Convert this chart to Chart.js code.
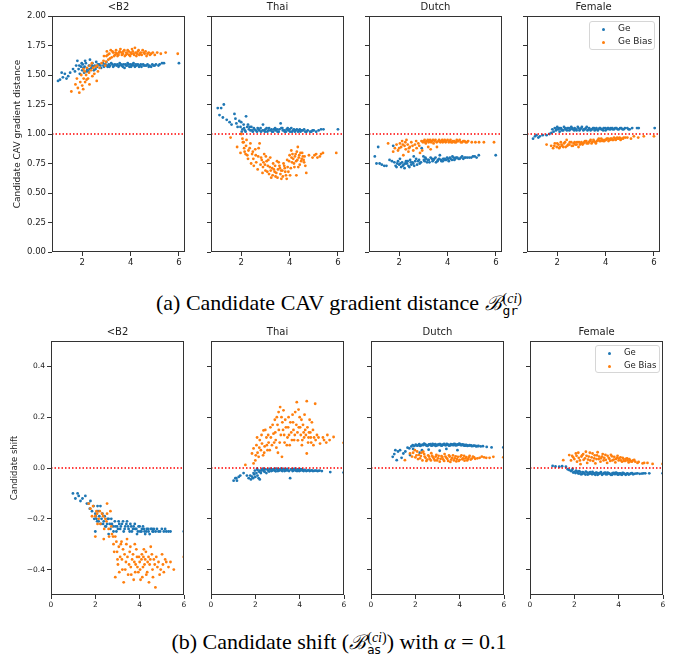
<!DOCTYPE html>
<html>
<head>
<meta charset="utf-8">
<script src="https://cdn.jsdelivr.net/npm/chart.js@4.4.1/dist/chart.umd.min.js"></script>
<style>
body { margin: 0; background: #fff; }
#fig { position: relative; width: 678px; height: 659px; overflow: hidden; font-family: "DejaVu Sans", sans-serif; }
#fig canvas { position: absolute; }
.ttl { position: absolute; font-size: 10px; line-height: 12px; color: #222; text-align: center; white-space: nowrap; }
.leg { position: absolute; border: 1px solid #d6d6d6; border-radius: 3px; background: rgba(255,255,255,0.85); box-sizing: border-box; }
.leg .dot { position: absolute; width: 3px; height: 3px; border-radius: 50%; }
.leg .lt { position: absolute; color: #222; white-space: nowrap; }
.cap { position: absolute; left: 0; width: 678px; text-align: center; font-family: "Liberation Serif", "Times New Roman", serif; font-size: 22px; line-height: 24px; color: #000; white-space: nowrap; }
.cal { font-family: "DejaVu Serif", serif; font-style: italic; font-size: 20px; }
.stk { display: inline-block; vertical-align: -5px; line-height: 12px; font-size: 14px; text-align: left; margin-left: 1px; }
.stk span { display: block; }
</style>
</head>
<body>
<div id="fig">
  <div class="cap" style="top:291px">(a) Candidate CAV gradient distance <span class="cal">ℬ</span><span class="stk"><span>(<i>ci</i>)</span><span style="font-family:'DejaVu Sans Mono',monospace;font-size:13px">gr</span></span></div>
  <div class="cap" style="top:630px">(b) Candidate shift (<span class="cal">ℬ</span><span class="stk"><span>(<i>ci</i>)</span><span style="font-family:'DejaVu Sans',sans-serif;font-size:12px">as</span></span>) with <i>α</i> = 0.1</div>
</div>
<script>
// --- DATA ---
const groups = ['<B2', 'Thai', 'Dutch', 'Female'];
const seriesNames = ['Ge', 'Ge Bias'];

const gradXTicks = [2, 4, 6];
const gradYTicks = [0, 0.25, 0.5, 0.75, 1.0, 1.25, 1.5, 1.75, 2.0];
const shiftXTicks = [0, 2, 4, 6];
const shiftYTicks = [-0.4, -0.2, 0, 0.2, 0.4];
const gradRef = 1.0;
const shiftRef = 0.0;

// (a) gradient distance
const gradGe_B2 = [[1.00,1.45],[1.08,1.46],[1.15,1.52],[1.2,1.48],[1.28,1.51],[1.35,1.47],[1.42,1.49],[1.5,1.52],[1.62,1.55],[1.7,1.53],[1.75,1.58],[1.8,1.62],[1.85,1.55],[1.9,1.51],[1.95,1.57],[2.0,1.54],[2.02,1.59],[2.08,1.52],[2.1,1.57],[2.15,1.6],[2.2,1.55],[2.25,1.53],[2.28,1.58],[2.32,1.63],[2.38,1.56],[2.42,1.6],[2.48,1.54],[2.52,1.58],[2.58,1.61],[2.62,1.57],[2.7,1.59],[2.78,1.56],[2.85,1.6],[2.9,1.57],[2.95,1.59],[3.0,1.61],[3.05,1.57],[3.1,1.59],[3.15,1.58],[3.2,1.6],[3.28,1.57],[3.35,1.59],[3.42,1.58],[3.5,1.57],[3.55,1.6],[3.62,1.58],[3.7,1.59],[3.75,1.56],[3.82,1.58],[3.88,1.6],[3.95,1.57],[4.0,1.59],[4.05,1.58],[4.12,1.6],[4.18,1.57],[4.25,1.58],[4.3,1.59],[4.38,1.58],[4.45,1.57],[4.52,1.59],[4.6,1.58],[4.7,1.59],[4.78,1.58],[4.85,1.57],[4.95,1.58],[5.05,1.59],[5.15,1.58],[5.3,1.6],[5.38,1.6],[6.0,1.6],
    [2.05,1.56],[2.18,1.53],[2.3,1.55],[2.4,1.58],[2.55,1.55],[2.65,1.59],[2.75,1.58],[2.88,1.58],[3.02,1.58],[3.12,1.57],[3.25,1.59],[3.32,1.58],[3.45,1.59],[3.52,1.58],[3.6,1.59],[3.68,1.57],[3.78,1.59],[3.85,1.58],[3.92,1.59],[4.02,1.57],[4.08,1.59],[4.15,1.58],[4.22,1.59],[4.35,1.57],[4.42,1.59],[4.55,1.58],[4.65,1.58],[4.75,1.57],[4.9,1.59],[5.0,1.58],[5.2,1.59],[1.98,1.6],[2.12,1.62],[2.45,1.57],[1.88,1.58]];
const gradBias_B2 = [[1.55,1.36],[1.72,1.42],[1.78,1.47],[1.82,1.39],[1.88,1.35],[1.92,1.44],[1.96,1.5],[2.0,1.41],[2.04,1.38],[2.06,1.47],[2.1,1.53],[2.12,1.44],[2.16,1.5],[2.2,1.56],[2.24,1.47],[2.28,1.52],[2.32,1.58],[2.36,1.54],[2.4,1.6],[2.45,1.56],[2.5,1.51],[2.55,1.57],[2.6,1.45],[2.65,1.53],[2.72,1.56],[2.8,1.6],[2.88,1.62],[2.95,1.58],[3.0,1.66],[3.02,1.7],[3.08,1.63],[3.12,1.68],[3.18,1.71],[3.22,1.65],[3.28,1.69],[3.35,1.67],[3.4,1.71],[3.46,1.66],[3.52,1.69],[3.58,1.72],[3.64,1.67],[3.7,1.7],[3.76,1.66],[3.82,1.69],[3.88,1.71],[3.94,1.67],[4.0,1.69],[4.06,1.72],[4.12,1.68],[4.18,1.73],[4.24,1.66],[4.3,1.7],[4.36,1.67],[4.42,1.69],[4.5,1.71],[4.58,1.68],[4.66,1.66],[4.75,1.69],[4.85,1.68],[5.0,1.67],[5.1,1.69],[5.25,1.68],[5.45,1.69],[5.95,1.68],
    [3.05,1.67],[3.15,1.64],[3.25,1.7],[3.32,1.66],[3.38,1.69],[3.44,1.68],[3.5,1.67],[3.55,1.7],[3.62,1.69],[3.68,1.68],[3.74,1.71],[3.8,1.67],[3.86,1.68],[3.92,1.7],[3.98,1.66],[4.03,1.68],[4.09,1.7],[4.15,1.67],[4.21,1.69],[4.27,1.68],[4.33,1.71],[4.39,1.68],[4.46,1.67],[4.54,1.69],[4.62,1.7],[4.7,1.68],[4.8,1.67],[4.92,1.69],[2.05,1.55],[2.18,1.46],[2.3,1.42],[2.42,1.49],[2.62,1.58],[2.9,1.66],[2.98,1.61]];

const gradGe_Thai = [[1.03,1.22],[1.1,1.16],[1.17,1.22],[1.24,1.14],[1.28,1.25],[1.4,1.12],[1.52,1.1],[1.6,1.08],[1.72,1.17],[1.76,1.13],[1.8,1.09],[1.85,1.06],[1.92,1.11],[1.97,1.06],[2.0,1.1],[2.05,1.04],[2.1,1.08],[2.15,1.03],[2.2,1.15],[2.25,1.06],[2.28,1.08],[2.32,1.04],[2.38,1.03],[2.42,1.06],[2.48,1.02],[2.55,1.04],[2.6,1.03],[2.68,1.05],[2.75,1.03],[2.82,1.02],[2.9,1.08],[2.95,1.03],[3.0,1.04],[3.08,1.02],[3.15,1.05],[3.2,1.03],[3.28,1.02],[3.35,1.04],[3.42,1.03],[3.5,1.02],[3.58,1.04],[3.63,1.09],[3.66,1.05],[3.72,1.03],[3.8,1.02],[3.88,1.04],[3.95,1.03],[4.02,1.02],[4.07,1.05],[4.15,1.03],[4.22,1.02],[4.3,1.04],[4.38,1.03],[4.45,1.02],[4.55,1.03],[4.65,1.02],[4.75,1.03],[4.85,1.02],[4.95,1.03],[5.1,1.02],[5.3,1.04],[5.4,1.04],[6.0,1.04],
    [2.02,1.02],[2.12,1.05],[2.18,1.02],[2.35,1.06],[2.45,1.03],[2.52,1.05],[2.65,1.02],[2.72,1.04],[2.8,1.05],[2.88,1.03],[2.98,1.02],[3.05,1.05],[3.12,1.03],[3.25,1.04],[3.32,1.02],[3.4,1.05],[3.48,1.04],[3.55,1.02],[3.7,1.05],[3.78,1.03],[3.85,1.02],[3.92,1.05],[4.0,1.04],[4.1,1.02],[4.18,1.04],[4.25,1.03],[4.35,1.02],[4.42,1.04],[4.5,1.03],[4.6,1.04],[4.7,1.02],[4.9,1.02],[5.0,1.03],[5.2,1.03]];
const gradBias_Thai = [[1.56,0.97],[1.83,0.89],[1.97,0.84],[2.0,1.0],[2.05,0.96],[2.07,0.93],[2.12,0.88],[2.14,0.85],[2.2,0.9],[2.25,0.82],[2.3,0.86],[2.28,0.79],[2.38,0.92],[2.41,0.75],[2.45,0.83],[2.5,0.79],[2.58,0.87],[2.62,0.76],[2.7,0.81],[2.76,0.92],[2.8,0.74],[2.85,0.78],[2.9,0.72],[2.95,0.83],[3.0,0.69],[3.05,0.77],[3.1,0.73],[3.15,0.66],[3.2,0.8],[3.24,0.63],[3.28,0.71],[3.32,0.75],[3.38,0.68],[3.42,0.64],[3.48,0.77],[3.52,0.7],[3.58,0.73],[3.62,0.66],[3.66,0.62],[3.7,0.69],[3.75,0.75],[3.8,0.71],[3.85,0.65],[3.9,0.78],[3.95,0.68],[4.0,0.82],[4.02,0.65],[4.07,0.86],[4.1,0.76],[4.15,0.79],[4.2,0.72],[4.25,0.83],[4.28,0.65],[4.32,0.78],[4.34,0.89],[4.38,0.8],[4.42,0.74],[4.45,0.84],[4.5,0.79],[4.55,0.81],[4.6,0.76],[4.69,0.67],[4.8,0.82],[5.03,0.82],[5.15,0.8],[5.3,0.83],[5.38,0.84],[5.93,0.84],
    [2.1,0.93],[2.18,0.83],[2.22,0.95],[2.35,0.88],[2.48,0.85],[2.52,0.73],[2.6,0.82],[2.68,0.7],[2.72,0.88],[2.82,0.8],[2.88,0.67],[2.92,0.76],[2.98,0.74],[3.02,0.81],[3.08,0.68],[3.12,0.78],[3.18,0.72],[3.22,0.69],[3.3,0.65],[3.35,0.7],[3.4,0.73],[3.45,0.67],[3.5,0.63],[3.55,0.76],[3.6,0.71],[3.65,0.69],[3.72,0.64],[3.78,0.73],[3.82,0.68],[3.88,0.62],[3.92,0.72],[3.98,0.77],[4.05,0.71],[4.08,0.8],[4.12,0.83],[4.18,0.75],[4.22,0.81],[4.27,0.77],[4.3,0.85],[4.36,0.72],[4.4,0.82],[4.48,0.77],[4.52,0.84],[4.58,0.78],[4.62,0.81],[4.65,0.73],[4.95,0.8],[5.1,0.83],[5.25,0.81]];

const gradGe_Dutch = [[0.99,0.81],[1.06,0.75],[1.13,0.89],[1.19,0.75],[1.28,0.74],[1.38,0.73],[1.47,0.73],[1.6,0.78],[1.75,0.9],[1.8,0.76],[1.85,0.73],[1.89,0.72],[1.95,0.77],[2.0,0.74],[2.03,0.79],[2.08,0.72],[2.12,0.76],[2.18,0.74],[2.22,0.71],[2.28,0.77],[2.32,0.75],[2.38,0.73],[2.45,0.78],[2.5,0.74],[2.55,0.76],[2.62,0.73],[2.7,0.79],[2.78,0.77],[2.85,0.75],[2.93,0.88],[3.0,0.81],[3.05,0.77],[3.1,0.79],[3.15,0.76],[3.22,0.78],[3.3,0.8],[3.38,0.77],[3.45,0.79],[3.52,0.76],[3.6,0.78],[3.68,0.82],[3.75,0.77],[3.82,0.79],[3.9,0.78],[3.98,0.8],[4.05,0.77],[4.12,0.79],[4.2,0.81],[4.28,0.78],[4.35,0.8],[4.45,0.79],[4.55,0.8],[4.65,0.79],[4.75,0.8],[4.9,0.8],[5.05,0.81],[5.2,0.8],[5.29,0.82],[5.99,0.82],
    [2.05,0.75],[2.15,0.73],[2.25,0.75],[2.35,0.77],[2.42,0.72],[2.48,0.76],[2.58,0.75],[2.66,0.77],[2.74,0.74],[2.82,0.78],[2.9,0.76],[3.02,0.78],[3.08,0.8],[3.18,0.78],[3.25,0.76],[3.35,0.79],[3.42,0.78],[3.5,0.8],[3.58,0.77],[3.65,0.79],[3.72,0.78],[3.8,0.77],[3.88,0.79],[3.95,0.78],[4.02,0.79],[4.1,0.8],[4.18,0.78],[4.25,0.8],[4.32,0.79],[4.4,0.8],[4.5,0.79],[4.6,0.81],[4.7,0.8],[4.82,0.8],[4.98,0.8],[5.12,0.81],[1.7,0.77],[1.92,0.75],[2.6,0.81]];
const gradBias_Dutch = [[1.54,0.92],[1.75,0.85],[1.82,0.88],[1.89,0.91],[1.95,0.86],[2.03,0.92],[2.08,0.89],[2.12,0.94],[2.17,0.82],[2.22,0.9],[2.27,0.87],[2.3,0.95],[2.35,0.91],[2.4,0.88],[2.44,0.89],[2.5,0.93],[2.58,0.86],[2.65,0.91],[2.72,0.88],[2.79,0.92],[2.86,0.84],[2.92,0.94],[2.98,0.93],[3.05,0.95],[3.1,0.92],[3.15,0.94],[3.22,0.93],[3.28,0.95],[3.35,0.94],[3.42,0.92],[3.5,0.95],[3.56,0.89],[3.62,0.94],[3.7,0.93],[3.78,0.95],[3.85,0.94],[3.92,0.93],[4.0,0.95],[4.08,0.94],[4.15,0.93],[4.22,0.94],[4.3,0.93],[4.38,0.95],[4.45,0.94],[4.55,0.93],[4.65,0.94],[4.75,0.93],[4.85,0.94],[5.0,0.93],[5.15,0.93],[5.3,0.93],[5.5,0.93],[5.92,0.93],
    [2.0,0.88],[2.15,0.91],[2.25,0.93],[2.38,0.85],[2.55,0.9],[2.7,0.94],[2.83,0.9],[3.0,0.94],[3.08,0.93],[3.18,0.95],[3.25,0.94],[3.32,0.93],[3.4,0.95],[3.46,0.94],[3.55,0.93],[3.65,0.95],[3.72,0.94],[3.8,0.93],[3.88,0.95],[3.95,0.94],[4.05,0.93],[4.12,0.95],[4.2,0.93],[4.28,0.94],[4.35,0.93],[4.42,0.94],[4.5,0.95],[4.6,0.93],[4.7,0.94],[4.8,0.93],[3.3,0.87],[3.2,0.89],[2.95,0.86]];

const gradGe_Female = [[1.0,0.96],[1.08,0.98],[1.14,0.99],[1.22,0.97],[1.28,0.98],[1.4,0.99],[1.56,0.99],[1.68,1.0],[1.76,1.01],[1.8,1.04],[1.85,1.02],[1.9,1.05],[1.95,1.03],[2.0,1.06],[2.05,1.04],[2.1,1.02],[2.15,1.05],[2.2,1.03],[2.28,1.06],[2.35,1.04],[2.42,1.05],[2.5,1.03],[2.58,1.06],[2.65,1.04],[2.72,1.05],[2.8,1.03],[2.88,1.05],[2.95,1.04],[3.02,1.06],[3.1,1.04],[3.18,1.05],[3.25,1.03],[3.32,1.05],[3.4,1.04],[3.48,1.05],[3.55,1.03],[3.62,1.05],[3.7,1.04],[3.78,1.05],[3.85,1.04],[3.92,1.05],[4.0,1.03],[4.08,1.05],[4.15,1.04],[4.22,1.05],[4.3,1.04],[4.4,1.05],[4.5,1.04],[4.6,1.05],[4.7,1.04],[4.8,1.05],[4.95,1.04],[5.1,1.05],[5.3,1.05],[5.37,1.05],[6.03,1.05],
    [1.98,1.04],[2.08,1.05],[2.18,1.04],[2.25,1.03],[2.32,1.05],[2.4,1.03],[2.48,1.05],[2.55,1.04],[2.62,1.05],[2.7,1.03],[2.78,1.04],[2.85,1.06],[2.92,1.03],[3.0,1.05],[3.08,1.03],[3.15,1.04],[3.22,1.06],[3.3,1.04],[3.38,1.03],[3.45,1.04],[3.52,1.05],[3.6,1.04],[3.68,1.03],[3.75,1.05],[3.82,1.04],[3.9,1.03],[3.98,1.05],[4.05,1.04],[4.12,1.05],[4.2,1.04],[4.28,1.05],[4.35,1.04],[4.45,1.05],[4.55,1.04],[4.65,1.05],[4.75,1.04],[4.9,1.05],[5.0,1.04]];
const gradBias_Female = [[1.56,0.91],[1.75,0.9],[1.83,0.88],[1.9,0.92],[1.98,0.89],[2.05,0.91],[2.11,0.89],[2.15,0.93],[2.2,0.9],[2.28,0.92],[2.35,0.89],[2.39,0.95],[2.45,0.91],[2.52,0.93],[2.6,0.9],[2.68,0.92],[2.75,0.91],[2.82,0.93],[2.88,0.89],[2.94,0.91],[3.0,0.93],[3.08,0.92],[3.15,0.94],[3.22,0.92],[3.3,0.93],[3.38,0.95],[3.45,0.93],[3.52,0.94],[3.6,0.92],[3.68,0.95],[3.75,0.94],[3.82,0.96],[3.9,0.94],[3.98,0.95],[4.05,0.96],[4.12,0.94],[4.2,0.96],[4.28,0.95],[4.35,0.97],[4.42,0.95],[4.5,0.96],[4.58,0.97],[4.65,0.96],[4.75,0.97],[4.9,0.97],[5.05,0.96],[5.17,0.98],[5.35,0.97],[5.58,0.98],[6.0,0.98],
    [1.88,0.9],[2.0,0.92],[2.08,0.88],[2.18,0.91],[2.25,0.89],[2.32,0.93],[2.42,0.9],[2.5,0.91],[2.58,0.93],[2.65,0.9],[2.72,0.93],[2.8,0.91],[2.9,0.93],[2.98,0.92],[3.05,0.91],[3.12,0.93],[3.2,0.94],[3.28,0.92],[3.35,0.94],[3.42,0.92],[3.5,0.95],[3.58,0.93],[3.65,0.94],[3.72,0.96],[3.8,0.94],[3.88,0.95],[3.95,0.94],[4.02,0.95],[4.1,0.96],[4.18,0.95],[4.25,0.96],[4.32,0.95],[4.4,0.96],[4.48,0.97],[4.55,0.96],[4.62,0.95],[4.72,0.96],[4.82,0.97]];

// (b) candidate shift
const shiftGe_B2 = [[0.99,-0.1],[1.1,-0.12],[1.2,-0.1],[1.25,-0.11],[1.33,-0.13],[1.42,-0.12],[1.55,-0.11],[1.62,-0.14],[1.7,-0.14],[1.75,-0.16],[1.78,-0.13],[1.85,-0.17],[1.92,-0.15],[2.0,-0.18],[2.0,-0.25],[2.05,-0.2],[2.08,-0.21],[2.12,-0.17],[2.18,-0.19],[2.23,-0.15],[2.28,-0.2],[2.35,-0.22],[2.42,-0.19],[2.48,-0.23],[2.53,-0.22],[2.6,-0.2],[2.68,-0.24],[2.75,-0.22],[2.82,-0.25],[2.9,-0.23],[2.98,-0.23],[3.05,-0.21],[3.12,-0.24],[3.2,-0.22],[3.28,-0.25],[3.35,-0.23],[3.43,-0.21],[3.5,-0.24],[3.58,-0.22],[3.65,-0.25],[3.73,-0.23],[3.8,-0.24],[3.88,-0.26],[3.95,-0.23],[4.02,-0.25],[4.1,-0.24],[4.19,-0.24],[4.25,-0.26],[4.32,-0.24],[4.4,-0.25],[4.5,-0.24],[4.58,-0.25],[4.64,-0.24],[4.72,-0.25],[4.85,-0.25],[5.0,-0.24],[5.09,-0.25],[5.2,-0.25],[5.39,-0.25],[5.99,-0.25],
    [2.02,-0.19],[2.15,-0.21],[2.25,-0.22],[2.32,-0.18],[2.38,-0.21],[2.45,-0.23],[2.55,-0.2],[2.65,-0.22],[2.72,-0.2],[2.8,-0.23],[2.88,-0.21],[2.95,-0.25],[3.02,-0.24],[3.08,-0.22],[3.15,-0.23],[3.25,-0.21],[3.32,-0.24],[3.4,-0.22],[3.48,-0.23],[3.55,-0.25],[3.62,-0.23],[3.7,-0.24],[3.78,-0.22],[3.85,-0.24],[3.92,-0.25],[4.0,-0.23],[4.08,-0.25],[4.15,-0.23],[4.22,-0.25],[4.3,-0.25],[4.38,-0.24],[4.45,-0.26],[4.55,-0.24],[4.62,-0.25],[4.78,-0.24],[4.92,-0.25],[5.15,-0.24],[5.3,-0.25],[2.1,-0.15],[1.95,-0.2],[2.6,-0.26]];
const shiftBias_B2 = [[1.7,-0.14],[1.78,-0.16],[1.85,-0.19],[1.9,-0.15],[2.0,-0.19],[2.0,-0.27],[2.05,-0.17],[2.1,-0.22],[2.15,-0.2],[2.23,-0.22],[2.3,-0.18],[2.38,-0.28],[2.45,-0.2],[2.53,-0.14],[2.53,-0.18],[2.6,-0.24],[2.68,-0.17],[2.75,-0.26],[2.82,-0.3],[2.9,-0.27],[2.9,-0.43],[2.98,-0.33],[3.02,-0.38],[3.06,-0.31],[3.12,-0.35],[3.18,-0.29],[3.22,-0.4],[3.28,-0.45],[3.32,-0.34],[3.38,-0.37],[3.43,-0.28],[3.48,-0.42],[3.55,-0.33],[3.6,-0.39],[3.66,-0.36],[3.73,-0.44],[3.78,-0.3],[3.82,-0.38],[3.88,-0.35],[3.94,-0.41],[4.0,-0.37],[4.04,-0.44],[4.1,-0.34],[4.15,-0.39],[4.19,-0.32],[4.25,-0.36],[4.3,-0.42],[4.34,-0.41],[4.4,-0.35],[4.45,-0.38],[4.5,-0.31],[4.58,-0.4],[4.64,-0.36],[4.71,-0.47],[4.8,-0.39],[4.9,-0.42],[5.01,-0.34],[5.09,-0.41],[5.2,-0.37],[5.39,-0.37],[5.54,-0.4],[5.99,-0.35],
    [2.08,-0.18],[2.2,-0.17],[2.35,-0.19],[2.4,-0.24],[2.5,-0.21],[2.62,-0.27],[2.72,-0.23],[2.8,-0.27],[2.85,-0.33],[2.95,-0.29],[3.0,-0.36],[3.08,-0.41],[3.15,-0.3],[3.2,-0.36],[3.25,-0.32],[3.35,-0.4],[3.4,-0.3],[3.45,-0.35],[3.52,-0.38],[3.58,-0.31],[3.62,-0.42],[3.7,-0.34],[3.76,-0.37],[3.8,-0.41],[3.85,-0.32],[3.9,-0.39],[3.97,-0.35],[4.02,-0.4],[4.08,-0.36],[4.12,-0.43],[4.17,-0.35],[4.22,-0.38],[4.28,-0.33],[4.36,-0.37],[4.42,-0.45],[4.48,-0.36],[4.55,-0.34],[4.6,-0.43],[4.68,-0.38],[4.75,-0.35],[4.85,-0.37],[4.95,-0.4],[5.05,-0.38],[5.15,-0.36],[5.3,-0.39]];

const shiftGe_Thai = [[1.02,-0.05],[1.1,-0.04],[1.14,-0.04],[1.17,-0.05],[1.25,-0.035],[1.32,-0.03],[1.47,-0.02],[1.62,-0.03],[1.7,-0.04],[1.77,-0.03],[1.85,-0.034],[1.92,-0.02],[1.98,-0.01],[2.05,-0.02],[2.1,-0.008],[2.15,-0.04],[2.2,-0.01],[2.25,-0.02],[2.3,-0.006],[2.38,-0.012],[2.45,-0.005],[2.5,-0.02],[2.58,-0.01],[2.65,-0.004],[2.72,-0.012],[2.8,-0.006],[2.88,-0.01],[2.95,-0.003],[3.02,-0.012],[3.1,-0.006],[3.18,-0.01],[3.25,-0.004],[3.32,-0.012],[3.4,-0.005],[3.48,-0.01],[3.57,-0.04],[3.6,-0.006],[3.68,-0.012],[3.75,-0.004],[3.82,-0.01],[3.9,-0.006],[3.98,-0.012],[4.05,-0.005],[4.12,-0.01],[4.2,-0.007],[4.3,-0.012],[4.4,-0.008],[4.5,-0.01],[4.6,-0.012],[4.7,-0.01],[4.8,-0.012],[4.9,-0.01],[5.0,-0.012],[5.38,-0.016],[5.98,-0.018],
    [2.08,-0.003],[2.18,-0.015],[2.28,-0.01],[2.35,-0.003],[2.42,-0.015],[2.55,-0.006],[2.62,-0.014],[2.7,-0.004],[2.78,-0.01],[2.85,-0.004],[2.92,-0.013],[3.0,-0.005],[3.08,-0.01],[3.15,-0.003],[3.22,-0.012],[3.3,-0.005],[3.38,-0.01],[3.45,-0.004],[3.52,-0.012],[3.65,-0.005],[3.72,-0.01],[3.8,-0.004],[3.88,-0.012],[3.95,-0.005],[4.02,-0.01],[4.1,-0.006],[4.18,-0.012],[4.25,-0.008],[4.35,-0.01],[4.45,-0.012],[4.55,-0.009],[4.65,-0.011],[4.75,-0.01],[4.85,-0.011],[1.8,-0.045],[1.9,-0.04],[2.0,-0.035],[2.1,-0.03],[1.95,-0.025],[2.2,-0.045]];
const shiftBias_Thai = [[1.55,0.012],[1.85,0.057],[1.92,0.018],[1.92,0.077],[2.0,0.03],[2.05,0.09],[2.1,0.06],[2.15,0.044],[2.2,0.11],[2.25,0.07],[2.3,0.096],[2.35,0.05],[2.37,0.148],[2.42,0.085],[2.5,0.12],[2.55,0.07],[2.6,0.1],[2.68,0.16],[2.75,0.09],[2.82,0.135],[2.88,0.19],[2.92,0.11],[2.97,0.2],[3.02,0.06],[3.06,0.15],[3.12,0.24],[3.15,0.13],[3.2,0.044],[3.22,0.18],[3.27,0.227],[3.32,0.1],[3.38,0.16],[3.45,0.12],[3.5,0.2],[3.55,0.09],[3.62,0.14],[3.7,0.18],[3.75,0.11],[3.8,0.22],[3.87,0.259],[3.92,0.109],[3.96,0.16],[4.0,0.2],[4.05,0.13],[4.1,0.09],[4.15,0.17],[4.2,0.12],[4.25,0.15],[4.32,0.263],[4.32,0.057],[4.38,0.1],[4.42,0.14],[4.5,0.12],[4.55,0.18],[4.62,0.09],[4.7,0.253],[4.78,0.13],[4.92,0.096],[5.05,0.12],[5.2,0.1],[5.35,0.11],[5.53,0.122],[5.98,0.099],
    [2.02,0.05],[2.08,0.12],[2.18,0.08],[2.28,0.13],[2.4,0.06],[2.45,0.15],[2.52,0.09],[2.58,0.13],[2.65,0.07],[2.7,0.12],[2.78,0.17],[2.85,0.1],[2.9,0.14],[2.95,0.08],[3.0,0.17],[3.05,0.22],[3.1,0.1],[3.18,0.2],[3.25,0.15],[3.3,0.13],[3.35,0.19],[3.42,0.09],[3.48,0.16],[3.52,0.13],[3.58,0.18],[3.65,0.11],[3.68,0.21],[3.72,0.15],[3.78,0.13],[3.85,0.17],[3.9,0.14],[3.95,0.23],[4.02,0.16],[4.08,0.19],[4.12,0.11],[4.18,0.14],[4.22,0.21],[4.28,0.13],[4.35,0.16],[4.4,0.12],[4.45,0.19],[4.48,0.14],[4.52,0.1],[4.6,0.15],[4.65,0.12],[4.72,0.11],[4.85,0.12],[5.1,0.11],[5.25,0.13]];

const shiftGe_Dutch = [[0.98,0.044],[1.05,0.055],[1.1,0.07],[1.16,0.031],[1.22,0.065],[1.31,0.07],[1.38,0.04],[1.46,0.057],[1.55,0.065],[1.65,0.08],[1.73,0.077],[1.76,0.051],[1.82,0.085],[1.88,0.09],[1.95,0.087],[2.02,0.092],[2.1,0.088],[2.18,0.094],[2.25,0.089],[2.3,0.07],[2.32,0.092],[2.4,0.096],[2.48,0.09],[2.55,0.087],[2.62,0.093],[2.7,0.089],[2.78,0.095],[2.85,0.09],[2.92,0.087],[3.0,0.092],[3.08,0.094],[3.1,0.068],[3.15,0.089],[3.22,0.092],[3.3,0.095],[3.38,0.09],[3.45,0.093],[3.52,0.088],[3.6,0.094],[3.68,0.091],[3.75,0.095],[3.82,0.089],[3.9,0.093],[3.9,0.07],[3.98,0.096],[4.05,0.09],[4.12,0.093],[4.2,0.088],[4.28,0.091],[4.35,0.087],[4.45,0.09],[4.55,0.086],[4.65,0.088],[4.75,0.085],[4.85,0.087],[4.95,0.085],[5.05,0.086],[5.22,0.083],[5.44,0.081],[5.97,0.081],
    [2.05,0.089],[2.15,0.091],[2.22,0.087],[2.35,0.09],[2.45,0.093],[2.52,0.088],[2.6,0.091],[2.68,0.094],[2.75,0.088],[2.82,0.092],[2.9,0.094],[2.98,0.089],[3.05,0.091],[3.12,0.094],[3.2,0.088],[3.28,0.092],[3.35,0.09],[3.42,0.095],[3.5,0.091],[3.58,0.089],[3.65,0.093],[3.72,0.09],[3.8,0.094],[3.88,0.09],[3.95,0.092],[4.02,0.094],[4.1,0.09],[4.18,0.092],[4.25,0.088],[4.32,0.09],[4.42,0.088],[4.52,0.089],[4.62,0.087],[4.72,0.087],[4.82,0.086],[1.9,0.075],[2.2,0.06],[2.6,0.072],[3.4,0.075]];
const shiftBias_Dutch = [[1.53,0.031],[1.76,0.057],[1.85,0.045],[1.98,0.07],[2.05,0.05],[2.12,0.035],[2.21,0.038],[2.28,0.06],[2.36,0.064],[2.42,0.045],[2.5,0.028],[2.58,0.05],[2.65,0.036],[2.72,0.058],[2.8,0.042],[2.88,0.03],[2.95,0.052],[3.02,0.038],[3.1,0.025],[3.18,0.047],[3.25,0.034],[3.32,0.055],[3.4,0.04],[3.48,0.028],[3.55,0.045],[3.62,0.033],[3.7,0.05],[3.78,0.038],[3.85,0.026],[3.92,0.044],[4.0,0.032],[4.08,0.05],[4.15,0.038],[4.22,0.029],[4.3,0.043],[4.38,0.035],[4.45,0.048],[4.55,0.037],[4.65,0.042],[4.8,0.038],[5.0,0.045],[5.2,0.04],[5.52,0.044],[5.97,0.042],
    [1.9,0.06],[2.0,0.042],[2.08,0.065],[2.16,0.052],[2.25,0.047],[2.32,0.03],[2.4,0.055],[2.46,0.04],[2.54,0.033],[2.62,0.045],[2.7,0.03],[2.76,0.048],[2.84,0.036],[2.92,0.045],[2.98,0.03],[3.05,0.048],[3.14,0.036],[3.22,0.043],[3.3,0.028],[3.36,0.045],[3.44,0.036],[3.52,0.05],[3.58,0.024],[3.66,0.04],[3.74,0.03],[3.82,0.046],[3.88,0.035],[3.96,0.028],[4.04,0.045],[4.12,0.034],[4.2,0.048],[4.26,0.038],[4.34,0.03],[4.42,0.042],[4.5,0.033],[4.6,0.045],[4.7,0.036],[4.9,0.04],[5.1,0.042],[5.35,0.04]];

const shiftGe_Female = [[1.02,0.008],[1.15,0.006],[1.32,0.005],[1.45,0.007],[1.62,0.005],[1.7,-0.005],[1.77,-0.008],[1.85,-0.012],[1.92,-0.004],[2.0,-0.015],[2.08,-0.01],[2.15,-0.02],[2.22,-0.012],[2.3,-0.025],[2.38,-0.016],[2.45,-0.022],[2.52,-0.014],[2.6,-0.026],[2.68,-0.018],[2.75,-0.022],[2.82,-0.015],[2.9,-0.024],[2.98,-0.018],[3.05,-0.027],[3.12,-0.02],[3.2,-0.016],[3.28,-0.024],[3.35,-0.019],[3.42,-0.025],[3.5,-0.018],[3.58,-0.022],[3.65,-0.027],[3.72,-0.02],[3.8,-0.024],[3.88,-0.018],[3.95,-0.026],[4.02,-0.021],[4.1,-0.025],[4.18,-0.019],[4.25,-0.023],[4.32,-0.027],[4.4,-0.021],[4.5,-0.024],[4.6,-0.02],[4.7,-0.023],[4.85,-0.021],[5.05,-0.022],[5.2,-0.021],[5.38,-0.021],[5.98,-0.021],
    [1.88,-0.01],[1.95,-0.018],[2.05,-0.02],[2.12,-0.014],[2.2,-0.022],[2.28,-0.016],[2.35,-0.024],[2.42,-0.019],[2.5,-0.026],[2.58,-0.018],[2.65,-0.024],[2.72,-0.016],[2.8,-0.025],[2.88,-0.02],[2.95,-0.027],[3.02,-0.019],[3.1,-0.024],[3.18,-0.021],[3.25,-0.027],[3.32,-0.021],[3.4,-0.018],[3.48,-0.025],[3.55,-0.02],[3.62,-0.024],[3.7,-0.027],[3.78,-0.019],[3.85,-0.024],[3.92,-0.02],[4.0,-0.026],[4.08,-0.021],[4.15,-0.027],[4.22,-0.02],[4.3,-0.024],[4.38,-0.022],[4.45,-0.026],[4.55,-0.021],[4.65,-0.025],[4.78,-0.022],[4.95,-0.023],[5.12,-0.021]];
const shiftBias_Female = [[1.5,0.031],[1.77,0.051],[1.85,0.03],[1.95,0.042],[2.07,0.057],[2.12,0.025],[2.2,0.04],[2.28,0.015],[2.35,0.05],[2.42,0.032],[2.52,0.064],[2.58,0.02],[2.65,0.045],[2.72,0.03],[2.82,0.057],[2.9,0.038],[2.95,0.018],[3.02,0.05],[3.1,0.035],[3.18,0.025],[3.25,0.045],[3.32,0.03],[3.4,0.052],[3.48,0.02],[3.55,0.04],[3.62,0.028],[3.7,0.046],[3.78,0.033],[3.85,0.022],[3.92,0.04],[4.0,0.03],[4.08,0.042],[4.15,0.025],[4.22,0.035],[4.3,0.028],[4.38,0.038],[4.45,0.022],[4.52,0.03],[4.6,0.025],[4.7,0.032],[4.85,0.02],[5.08,0.018],[5.3,0.02],[5.53,0.016],[5.98,0.016],
    [1.9,0.048],[2.0,0.035],[2.1,0.048],[2.18,0.06],[2.25,0.03],[2.32,0.045],[2.4,0.055],[2.48,0.038],[2.55,0.048],[2.62,0.033],[2.7,0.06],[2.78,0.042],[2.85,0.028],[2.92,0.05],[3.0,0.035],[3.05,0.062],[3.12,0.045],[3.2,0.038],[3.28,0.055],[3.35,0.04],[3.42,0.032],[3.5,0.048],[3.58,0.036],[3.65,0.052],[3.72,0.03],[3.8,0.044],[3.88,0.035],[3.95,0.048],[4.02,0.038],[4.1,0.03],[4.18,0.04],[4.25,0.028],[4.32,0.036],[4.4,0.03],[4.48,0.035],[4.55,0.026],[4.65,0.03],[4.75,0.025],[4.9,0.024],[5.15,0.02]];

// --- LAYOUT ---
const BLUE = '#1f77b4', ORANGE = '#ff7f0e';
const FONT = "'DejaVu Sans', sans-serif";
const fig = document.getElementById('fig');
const PADL = 52, PADR = 10, PADT = 8, PADB = 22;

// draws the 4 spines over the points, like matplotlib
const frame = {
    id: 'frame',
    afterDatasetsDraw(c) {
        const a = c.chartArea, ctx = c.ctx;
        ctx.save();
        ctx.strokeStyle = '#333';
        ctx.lineWidth = 1;
        ctx.strokeRect(a.left + 0.5, a.top + 0.5, a.right - a.left - 1, a.bottom - a.top - 1);
        ctx.restore();
    }
};

function pts(arr) { return arr.map(p => ({ x: p[0], y: p[1] })); }

function panel(box, ge, bias, ax, i) {
    const cv = document.createElement('canvas');
    const w = box.w + PADL + PADR, h = box.h + PADT + PADB;
    cv.width = w; cv.height = h;
    cv.style.left = (box.l - PADL) + 'px';
    cv.style.top = (box.t - PADT) + 'px';
    cv.style.width = w + 'px'; cv.style.height = h + 'px';
    fig.appendChild(cv);

    new Chart(cv, {
        type: 'scatter',
        data: {
            datasets: [
                { label: 'ref', data: [{ x: ax.xMin, y: ax.ref }, { x: ax.xMax, y: ax.ref }], showLine: true, borderColor: '#ff0000', borderWidth: 1.4, borderDash: [1.5, 2], pointRadius: 0, order: 1 },
                { label: seriesNames[1], data: pts(bias), backgroundColor: ORANGE, borderWidth: 0, pointRadius: 1.4, order: 2 },
                { label: seriesNames[0], data: pts(ge), backgroundColor: BLUE, borderWidth: 0, pointRadius: 1.4, order: 3 }
            ]
        },
        options: {
            responsive: false, animation: false, events: [],
            layout: { padding: { left: 0, right: PADR, top: PADT, bottom: 0 }, autoPadding: false },
            plugins: { legend: { display: false }, tooltip: { enabled: false } },
            scales: {
                x: {
                    type: 'linear', min: ax.xMin, max: ax.xMax,
                    afterFit: s => { s.height = PADB; },
                    afterBuildTicks: s => { s.ticks = ax.xTicks.map(v => ({ value: v })); },
                    grid: { drawOnChartArea: false, tickLength: 4, color: '#333' },
                    border: { display: false },
                    ticks: { font: { family: FONT, size: ax.tick }, color: '#222', padding: 2, maxRotation: 0, autoSkip: false, callback: v => String(v) }
                },
                y: {
                    min: ax.yMin, max: ax.yMax,
                    afterFit: s => { s.width = PADL; },
                    afterBuildTicks: s => { s.ticks = ax.yTicks.map(v => ({ value: v })); },
                    grid: { drawOnChartArea: false, tickLength: 4, color: '#333' },
                    border: { display: false },
                    ticks: { font: { family: FONT, size: ax.tick }, color: '#222', padding: 2, autoSkip: false,
                        callback: v => i === 0 ? ax.fmt(v) : '' },
                    title: { display: i === 0, text: ax.yTitle, color: '#222', font: { family: FONT, size: ax.titleSize }, padding: { top: ax.titlePad, bottom: 0 } }
                }
            }
        },
        plugins: [frame]
    });

    // panel title
    const t = document.createElement('div');
    t.className = 'ttl';
    t.textContent = groups[i];
    t.style.left = box.l + 'px'; t.style.width = box.w + 'px';
    t.style.top = (box.t - ax.titleGap) + 'px';
    fig.appendChild(t);
}

function legend(x, y, w, h, fs) {
    const d = document.createElement('div');
    d.className = 'leg';
    d.style.left = x + 'px'; d.style.top = y + 'px';
    d.style.width = w + 'px'; d.style.height = h + 'px';
    [BLUE, ORANGE].forEach((c, k) => {
        const dot = document.createElement('span');
        dot.className = 'dot';
        dot.style.background = c;
        dot.style.left = '12px'; dot.style.top = (6 + k * 13) + 'px';
        d.appendChild(dot);
        const lt = document.createElement('span');
        lt.className = 'lt';
        lt.textContent = seriesNames[k];
        lt.style.fontSize = fs + 'px';
        lt.style.left = '28px'; lt.style.top = (1 + k * 13) + 'px';
        d.appendChild(lt);
    });
    fig.appendChild(d);
}

const gradAxis = { xMin: 0.75, xMax: 6.25, yMin: 0, yMax: 2, xTicks: gradXTicks, yTicks: gradYTicks, ref: gradRef,
    fmt: v => v.toFixed(2), tick: 8.5, yTitle: 'Candidate CAV gradient distance', titleSize: 9, titlePad: 12, titleGap: 15 };
const shiftAxis = { xMin: 0, xMax: 6, yMin: -0.5, yMax: 0.5, xTicks: shiftXTicks, yTicks: shiftYTicks, ref: shiftRef,
    fmt: v => (v < 0 ? '\u2212' : '') + Math.abs(v).toFixed(1), tick: 7.5, yTitle: 'Candidate shift', titleSize: 8.5, titlePad: 11, titleGap: 15 };

const topBoxes = [{ l: 52, t: 16, w: 133, h: 236 }, { l: 211, t: 16, w: 133, h: 236 }, { l: 369, t: 16, w: 133, h: 236 }, { l: 527, t: 16, w: 133, h: 236 }];
const botBoxes = [{ l: 51, t: 341, w: 133, h: 254 }, { l: 211, t: 341, w: 133, h: 254 }, { l: 371, t: 341, w: 133, h: 254 }, { l: 530, t: 341, w: 133, h: 254 }];

const gradGe = [gradGe_B2, gradGe_Thai, gradGe_Dutch, gradGe_Female];
const gradBias = [gradBias_B2, gradBias_Thai, gradBias_Dutch, gradBias_Female];
const shiftGe = [shiftGe_B2, shiftGe_Thai, shiftGe_Dutch, shiftGe_Female];
const shiftBias = [shiftBias_B2, shiftBias_Thai, shiftBias_Dutch, shiftBias_Female];

for (let i = 0; i < 4; i++) {
    panel(topBoxes[i], gradGe[i], gradBias[i], gradAxis, i);
    panel(botBoxes[i], shiftGe[i], shiftBias[i], shiftAxis, i);
}
legend(589, 21, 66, 29, 9);
legend(595, 345, 65, 28, 8.5);
</script>
</body>
</html>
